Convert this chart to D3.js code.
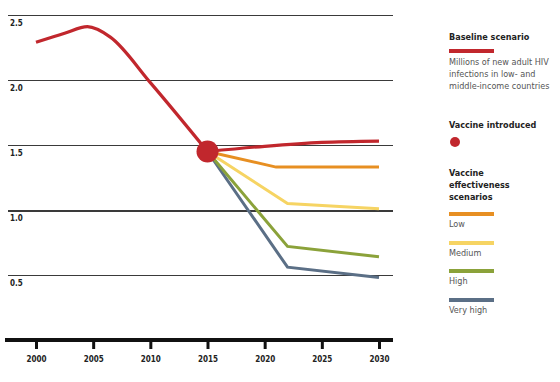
<!DOCTYPE html>
<html>
<head>
<meta charset="utf-8">
<script src="https://cdn.jsdelivr.net/npm/d3@7"></script>
<style>
body{margin:0;background:#fff;}
svg{display:block;}
</style>
</head>
<body>
<div id="plot"></div>
<script>
// data
var yearTicks = [2000, 2005, 2010, 2015, 2020, 2025, 2030];
var valueTicks = [0.5, 1.0, 1.5, 2.0, 2.5];

// baseline: up to the vaccine year, then after it
var baselineYears = [2000, 2002.5, 2004.5, 2006.5, 2010, 2015];
var baselineVals  = [2.29, 2.36, 2.41, 2.33, 1.98, 1.45];
var baselineLaterYears = [2015, 2020, 2025, 2030];
var baselineLaterVals  = [1.45, 1.49, 1.52, 1.53];

var lowYears = [2015, 2021, 2030];
var lowVals  = [1.45, 1.33, 1.33];
var medYears = [2015, 2022, 2030];
var medVals  = [1.45, 1.05, 1.01];
var highYears = [2015, 2022, 2030];
var highVals  = [1.45, 0.72, 0.64];
var vhighYears = [2015, 2022, 2030];
var vhighVals  = [1.45, 0.56, 0.48];

var vaccineYear = 2015, vaccineVal = 1.45;

var W = 560, H = 382;
var svg = d3.select('#plot').append('svg').attr('width', W).attr('height', H);

var x = d3.scaleLinear().domain([2000, 2030]).range([36, 379]);
var y = d3.scaleLinear().domain([0, 2.5]).range([340, 15]);

// gridlines
svg.selectAll('.grid').data(valueTicks).enter().append('line')
    .attr('x1', 8).attr('x2', 393)
    .attr('y1', function(d){return y(d) + 0.5;}).attr('y2', function(d){return y(d) + 0.5;})
    .style('stroke', '#3a3a3a')
    .style('stroke-width', function(d){return d == 1 ? 2 : 1;})
    .style('shape-rendering', 'crispEdges');

svg.selectAll('.ylab').data(valueTicks).enter().append('text')
    .attr('x', 10).attr('y', function(d){return y(d) + 11;})
    .text(function(d){return d.toFixed(1);})
    .style('font-family', 'DejaVu Sans Condensed, sans-serif')
    .style('font-size', '8px').style('font-weight', 'bold').style('fill', '#222');

// x axis
var xAxis = d3.axisBottom(x).tickValues(yearTicks).tickFormat(d3.format('d')).tickSize(9).tickSizeOuter(0);
var gx = svg.append('g').attr('transform', 'translate(0,340)').call(xAxis);
gx.select('.domain').remove();
gx.selectAll('.tick line').style('stroke', '#111').style('stroke-width', 3);
gx.selectAll('.tick text')
    .attr('dy', '1.2em')
    .style('font-family', 'DejaVu Sans Condensed, sans-serif')
    .style('font-size', '8px').style('font-weight', 'bold').style('fill', '#222');
svg.append('line').attr('x1', 5).attr('x2', 393).attr('y1', 340).attr('y2', 340)
    .style('stroke', '#111').style('stroke-width', 4);

// lines
var line = d3.line().x(function(d){return x(d[0]);}).y(function(d){return y(d[1]);});
var smooth = d3.line().curve(d3.curveMonotoneX).x(function(d){return x(d[0]);}).y(function(d){return y(d[1]);});
function pairs(yrs, vals){ return yrs.map(function(d, i){return [d, vals[i]];}); }

var series = [
    {yrs: vhighYears, vals: vhighVals, color: '#5b6f86'},
    {yrs: highYears, vals: highVals, color: '#8ba23a'},
    {yrs: medYears, vals: medVals, color: '#f6d463'},
    {yrs: lowYears, vals: lowVals, color: '#e78f22'}
];
series.forEach(function(s){
    svg.append('path')
        .datum(pairs(s.yrs, s.vals))
        .attr('d', line)
        .style('fill', 'none').style('stroke', s.color).style('stroke-width', 3);
});

svg.append('path')
    .datum(pairs(baselineYears, baselineVals))
    .attr('d', smooth)
    .style('fill', 'none').style('stroke', '#c1272d').style('stroke-width', 3.2);
svg.append('path')
    .datum(pairs(baselineLaterYears, baselineLaterVals))
    .attr('d', smooth)
    .style('fill', 'none').style('stroke', '#c1272d').style('stroke-width', 3.2);

svg.append('circle').attr('cx', x(vaccineYear)).attr('cy', y(vaccineVal)).attr('r', 11)
    .style('fill', '#c1272d');

// legend
var lg = svg.append('g').attr('transform', 'translate(449,0)');
var ff = 'Liberation Sans Narrow, DejaVu Sans Condensed, sans-serif';
function txt(t, yy, bold){
    lg.append('text').attr('x', 0).attr('y', yy).text(t)
        .style('font-family', ff).style('font-size', '9px')
        .style('font-weight', bold ? 'bold' : 'normal')
        .style('fill', bold ? '#222' : '#555');
}
function bar(color, yy){
    lg.append('rect').attr('x', 0).attr('y', yy).attr('width', 45).attr('height', 4).style('fill', color);
}
txt('Baseline scenario', 40, true);
bar('#c1272d', 49);
txt('Millions of new adult HIV', 65);
txt('infections in low- and', 77);
txt('middle-income countries', 89);
txt('Vaccine introduced', 128, true);
lg.append('circle').attr('cx', 6).attr('cy', 142).attr('r', 5).style('fill', '#c1272d');
txt('Vaccine', 176, true);
txt('effectiveness', 188, true);
txt('scenarios', 200, true);
var legItems = [['Low', '#e78f22', 212], ['Medium', '#f6d463', 241], ['High', '#8ba23a', 269], ['Very high', '#5b6f86', 298]];
legItems.forEach(function(d){
    bar(d[1], d[2]);
    txt(d[0], d[2] + 15);
});
</script>
</body>
</html>
